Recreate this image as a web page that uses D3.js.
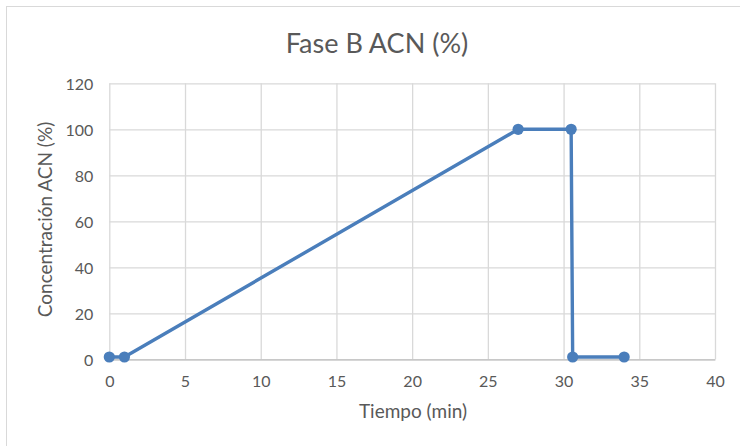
<!DOCTYPE html>
<html>
<head>
<meta charset="utf-8">
<script src="https://cdn.jsdelivr.net/npm/d3@7"></script>
<style>
  html, body { margin: 0; padding: 0; background: #fff; }
  svg { display: block; font-family: Lato, "Open Sans", sans-serif; }
</style>
</head>
<body>
<svg id="chart" width="740" height="446"></svg>
<script>
// Gradient program: acetonitrile share over time
const tiempo = [0, 1, 27, 30.5, 30.6, 34];
const acn = [1, 1, 100, 100, 1, 1];
const xTicks = [0, 5, 10, 15, 20, 25, 30, 35, 40];
const yTicks = [0, 20, 40, 60, 80, 100, 120];

const titleText = "Fase B ACN (%)";
const xTitle = "Tiempo (min)";
const yTitle = "Concentración ACN (%)";

const W = 740, H = 446;
const plot = { left: 109.3, right: 715, top: 83.3, bottom: 359.3 };
const textColor = "#595959";
const gridColor = "#d9d9d9";
const lineColor = "#4a7ebb";

const svg = d3.select("#chart");

// outer chart frame
svg.append("rect")
  .attr("x", 6.5).attr("y", 6.5)
  .attr("width", W).attr("height", H)
  .attr("fill", "#fff").attr("stroke", "#d9d9d9").attr("stroke-width", 1);

const x = d3.scaleLinear().domain([0, 40]).range([plot.left, plot.right]);
const y = d3.scaleLinear().domain([0, 120]).range([plot.bottom, plot.top]);

// vertical grid
svg.append("g")
  .attr("transform", `translate(0,${plot.bottom})`)
  .call(d3.axisBottom(x).tickValues(xTicks).tickSize(-(plot.bottom - plot.top)).tickFormat(""))
  .call(g => g.select(".domain").remove())
  .call(g => g.selectAll("line").attr("stroke", gridColor).attr("stroke-width", 1.3));

// horizontal grid
svg.append("g")
  .attr("transform", `translate(${plot.left},0)`)
  .call(d3.axisLeft(y).tickValues(yTicks).tickSize(-(plot.right - plot.left)).tickFormat(""))
  .call(g => g.select(".domain").remove())
  .call(g => g.selectAll("line").attr("stroke", gridColor).attr("stroke-width", 1.3));

// x tick labels
svg.append("g")
  .attr("transform", `translate(0,${plot.bottom})`)
  .call(d3.axisBottom(x).tickValues(xTicks).tickSize(0).tickPadding(28))
  .call(g => g.select(".domain").attr("stroke", "#bfbfbf").attr("stroke-width", 1.3))
  .call(g => g.selectAll("text")
    .attr("fill", textColor).attr("font-size", "16px")
    .attr("font-family", "Lato, 'Open Sans', sans-serif")
    .attr("dy", "0"));

// y tick labels
svg.append("g")
  .attr("transform", `translate(${plot.left},0)`)
  .call(d3.axisLeft(y).tickValues(yTicks).tickSize(0).tickPadding(16))
  .call(g => g.select(".domain").remove())
  .call(g => g.selectAll("text")
    .attr("fill", textColor).attr("font-size", "16px")
    .attr("font-family", "Lato, 'Open Sans', sans-serif")
    .attr("dy", "0.36em"));

// series line and markers
const pts = tiempo.map((t, i) => ({ t, v: acn[i] }));
svg.append("path")
  .datum(pts)
  .attr("fill", "none")
  .attr("stroke", lineColor)
  .attr("stroke-width", 3.4)
  .attr("stroke-linejoin", "round")
  .attr("d", d3.line().x(d => x(d.t)).y(d => y(d.v)));

svg.append("g").selectAll("circle")
  .data(pts)
  .join("circle")
  .attr("cx", d => x(d.t))
  .attr("cy", d => y(d.v))
  .attr("r", 5.6)
  .attr("fill", lineColor);

// titles
svg.append("text")
  .attr("x", 377).attr("y", 53.3)
  .attr("text-anchor", "middle")
  .attr("fill", textColor).attr("font-size", "27px")
  .text(titleText);

svg.append("text")
  .attr("x", 413).attr("y", 418)
  .attr("text-anchor", "middle")
  .attr("fill", textColor).attr("font-size", "19px")
  .text(xTitle);

svg.append("text")
  .attr("transform", `translate(52,219.5) rotate(-90)`)
  .attr("text-anchor", "middle")
  .attr("fill", textColor).attr("font-size", "19px")
  .text(yTitle);
</script>
</body>
</html>
